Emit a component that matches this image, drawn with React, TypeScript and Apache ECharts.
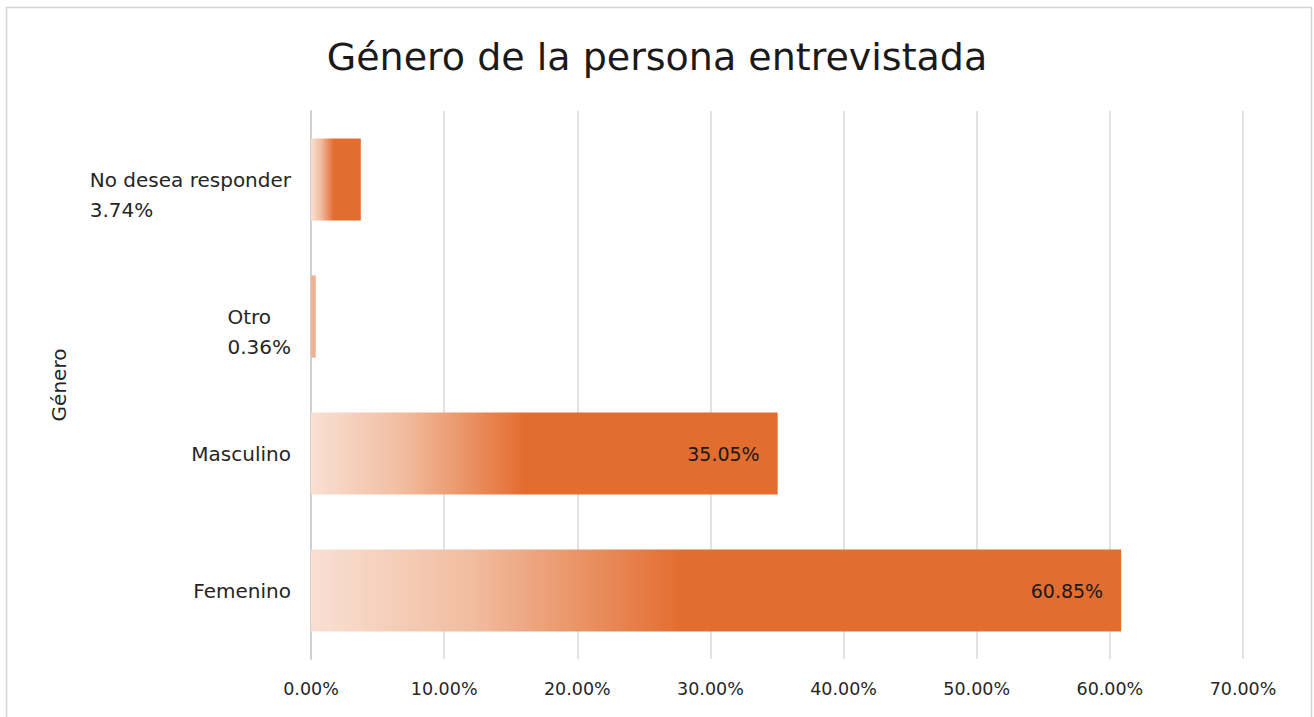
import React, { useEffect, useRef } from "react";
import * as echarts from "echarts";

const categories = ["Femenino", "Masculino", "Otro", "No desea responder"];
const values = [60.85, 35.05, 0.36, 3.74];
const smallLabelCategories = ["Otro", "No desea responder"];
const xTicks = [0, 10, 20, 30, 40, 50, 60, 70];
const titleText = "Género de la persona entrevistada";
const yAxisName = "Género";

const FONT = "'DejaVu Sans', sans-serif";

export default function App() {
  const ref = useRef<HTMLDivElement>(null);
  useEffect(() => {
    if (!ref.current) return;
    const chart = echarts.init(ref.current, null, { renderer: "svg" });
    const valueOf = (c: string) => values[categories.indexOf(c)];
    const gradient = () =>
      new echarts.graphic.LinearGradient(0, 0, 1, 0, [
        { offset: 0, color: "#f9e0d3" },
        { offset: 0.2, color: "#f1bc9f" },
        { offset: 0.46, color: "#e36c2f" },
        { offset: 1, color: "#e36c2f" },
      ]);
    chart.setOption({
      animation: false,
      backgroundColor: "#ffffff",
      textStyle: { fontFamily: FONT },
      title: {
        text: titleText,
        left: "center",
        top: 33,
        textStyle: { fontFamily: FONT, fontSize: 38, fontWeight: "normal", color: "#1a1a1a" },
      },
      graphic: [
        {
          type: "rect",
          shape: { x: 6.5, y: 7.5, width: 1305, height: 730 },
          style: { fill: "none", stroke: "#d4d4d4", lineWidth: 1.5 },
          z: 100,
          silent: true,
        },
      ],
      grid: { left: 311, right: 71, top: 111, bottom: 58 },
      xAxis: {
        type: "value",
        min: xTicks[0],
        max: xTicks[xTicks.length - 1],
        interval: 10,
        axisLine: { show: false },
        axisTick: { show: false },
        splitLine: { show: true, lineStyle: { color: "#d9d9d9", width: 1.5 } },
        axisLabel: {
          margin: 21,
          fontFamily: FONT,
          fontSize: 17.5,
          color: "#262626",
          formatter: (v: number) => v.toFixed(2) + "%",
        },
      },
      yAxis: {
        type: "category",
        data: categories,
        name: yAxisName,
        nameLocation: "middle",
        nameGap: 242,
        nameTextStyle: { fontFamily: FONT, fontSize: 20, color: "#262626" },
        axisLine: { show: true, lineStyle: { color: "#d0d0d0", width: 2 } },
        axisTick: { show: false },
        axisLabel: {
          margin: 20,
          fontFamily: FONT,
          fontSize: 20,
          color: "#262626",
          formatter: (c: string) => {
            if (smallLabelCategories.includes(c)) {
              return "{g| }\n{l|" + c + "}\n{l|" + valueOf(c).toFixed(2) + "%}";
            }
            return c;
          },
          rich: {
            g: { height: 30, lineHeight: 30, fontSize: 20 },
            l: { align: "left", fontFamily: FONT, fontSize: 20, color: "#262626", lineHeight: 30 },
          },
        },
      },
      series: [
        {
          type: "bar",
          data: values.map((v, i) => ({
            value: v,
            label: { show: !smallLabelCategories.includes(categories[i]) },
            itemStyle:
              categories[i] === "Otro" ? { color: "#efb293" } : { color: gradient() },
          })),
          barWidth: "60%",
          label: {
            show: true,
            position: "insideRight",
            distance: 18,
            fontFamily: FONT,
            fontSize: 19,
            color: "#1a1a1a",
            formatter: (p: any) => Number(p.value).toFixed(2) + "%",
          },
        },
      ],
    });
    return () => chart.dispose();
  }, []);
  return (
    <div
      ref={ref}
      style={{ position: "absolute", left: 0, top: 0, width: 1314, height: 717 }}
    />
  );
}
